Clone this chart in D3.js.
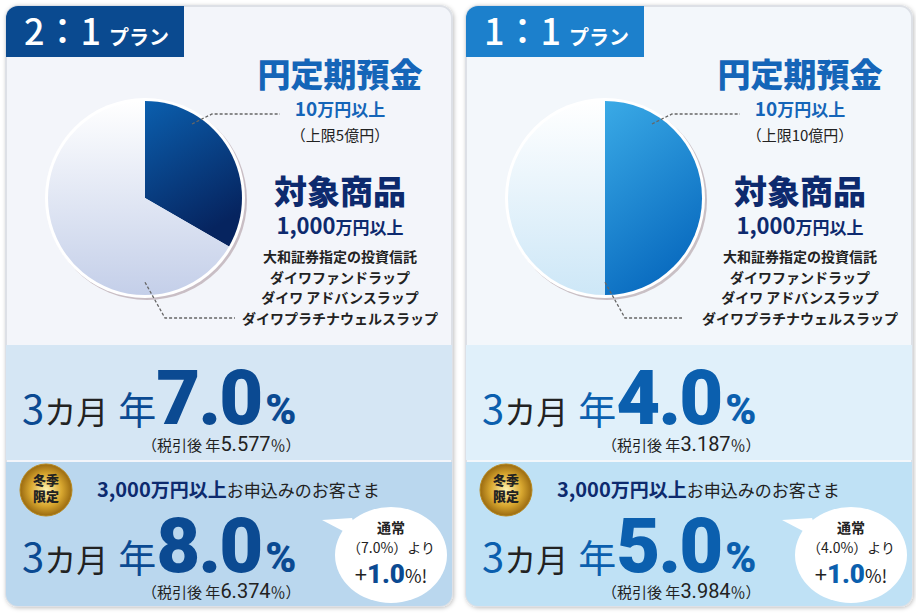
<!DOCTYPE html><html><head><meta charset="utf-8">
<script src="https://cdn.jsdelivr.net/npm/d3@7"></script>
<style>body{margin:0;background:#fff}text{font-family:"Noto Sans CJK JP","Noto Sans",sans-serif}</style></head><body>
<svg id="c" width="916" height="614"></svg>
<script>
const plans=["2：1","1：1"];
const shares=[[1,2],[1,1]];           // 円定期預金 : 対象商品
const depositLimit=["（上限5億円）","（上限10億円）"];
const rates=["7.0","4.0"];
const afterTax=["5.577","3.187"];
const campaignRates=["8.0","5.0"];
const campaignAfterTax=["6.374","3.984"];
const products=["大和証券指定の投資信託","ダイワファンドラップ","ダイワ アドバンスラップ","ダイワプラチナウェルスラップ"];
const themes=[
 {tab:"#0a4a90",bg:"#f3f5fa",mid:"#d5e6f4",bot:"#bad7ee",d1:"#0b5fae",d2:"#06245f",l1:"#ffffff",l2:"#c4cfe9",title:"#1565b8",t2:"#0d2a6e",num:"#0b4a92"},
 {tab:"#1c80cc",bg:"#f3f7fb",mid:"#e0f0fa",bot:"#bfe1f5",d1:"#3aaae6",d2:"#0a6cc0",l1:"#ffffff",l2:"#cde7f7",title:"#1565b8",t2:"#0d2a6e",num:"#0b5fae"}
];
const svg=d3.select("#c");
const defs=svg.append("defs");
const rg=defs.append("radialGradient").attr("id","gold");
rg.append("stop").attr("offset","0").attr("stop-color","#fff3b0");
rg.append("stop").attr("offset","0.6").attr("stop-color","#d9a830");
rg.append("stop").attr("offset","1").attr("stop-color","#9a6a10");
const fs=defs.append("filter").attr("id","sh").attr("x","-10%").attr("y","-10%").attr("width","120%").attr("height","120%");
fs.append("feDropShadow").attr("dx",1).attr("dy",1).attr("stdDeviation",2).attr("flood-color","#000").attr("flood-opacity",0.25);
plans.forEach((p,i)=>{
 const th=themes[i], ox=i*460;
 ["d","l"].forEach(k=>{const lg=defs.append("linearGradient").attr("id",k+i).attr("x1",0).attr("y1",0).attr("x2",k=="d"?0.4:0).attr("y2",1);
  lg.append("stop").attr("offset",0).attr("stop-color",th[k+"1"]);lg.append("stop").attr("offset",1).attr("stop-color",th[k+"2"]);});
 const cp=defs.append("clipPath").attr("id","cp"+i);cp.append("rect").attr("x",ox+6).attr("y",6).attr("width",446).attr("height",600).attr("rx",12);
 svg.append("rect").attr("x",ox+6).attr("y",6).attr("width",446).attr("height",600).attr("rx",12).attr("fill",th.bg).attr("stroke","#dde0e6").attr("stroke-width",2).attr("filter","url(#sh)");
 const inner=svg.append("g").attr("clip-path",`url(#cp${i})`).append("g").attr("transform",`translate(${ox},0)`);
 inner.append("rect").attr("x",6).attr("y",345).attr("width",446).attr("height",115).attr("fill",th.mid);
 inner.append("rect").attr("x",6).attr("y",462).attr("width",446).attr("height",150).attr("fill",th.bot);
 inner.append("rect").attr("x",6).attr("y",6).attr("width",178).attr("height",51).attr("fill",th.tab);
 const g=svg.append("g").attr("transform",`translate(${ox},0)`);
 const tt=g.append("text").attr("x",24).attr("y",45).attr("fill","#fff");
 tt.append("tspan").attr("font-size",36).attr("font-weight",500).text(p);
 tt.append("tspan").attr("font-size",20).attr("font-weight",700).attr("dx",8).text("プラン");
 // pie
 const cx=145,cy=198,r=97;
 const arcs=d3.pie().sort(null)(shares[i]);
 const arc=d3.arc().innerRadius(0).outerRadius(r);
 g.append("circle").attr("cx",cx+2).attr("cy",cy+2).attr("r",r+3).attr("fill","#7a5a60").attr("opacity",0.35);
 g.append("circle").attr("cx",cx).attr("cy",cy).attr("r",r+3).attr("fill","#fff");
 g.selectAll(".s").data(arcs).join("path").attr("transform",`translate(${cx},${cy})`).attr("d",arc).attr("fill",(d,j)=>j==0?`url(#d${i})`:`url(#l${i})`);
 const dash={stroke:"#666","stroke-width":1.3,"stroke-dasharray":"3,2",fill:"none"};
 const l1=g.append("path").attr("d",`M${cx+47},${cy-74} L${cx+67},${cy-84} L${280},${114}`);
 const l2=g.append("path").attr("d",`M${cx},${cy+r*0.9-3} L${cx+20},${318} L${i?222:235},${318}`);
 [l1,l2].forEach(l=>Object.entries(dash).forEach(([k,v])=>l.attr(k,v)));
 const tx=340;
 g.append("text").attr("x",tx).attr("y",87).attr("text-anchor","middle").attr("font-size",33).attr("font-weight",900).attr("fill",th.title).text("円定期預金");
 const t1=g.append("text").attr("x",tx).attr("y",116).attr("text-anchor","middle").attr("font-weight",700).attr("fill",th.title);
 t1.append("tspan").attr("font-size",19).text("10");t1.append("tspan").attr("font-size",17).text("万円以上");
 g.append("text").attr("x",tx).attr("y",141).attr("text-anchor","middle").attr("font-size",15).attr("fill","#222").text(depositLimit[i]);
 g.append("text").attr("x",tx).attr("y",204).attr("text-anchor","middle").attr("font-size",33).attr("font-weight",900).attr("fill",th.t2).text("対象商品");
 const t2=g.append("text").attr("x",tx).attr("y",234).attr("text-anchor","middle").attr("font-weight",700).attr("fill",th.t2);
 t2.append("tspan").attr("font-size",22).text("1,000");t2.append("tspan").attr("font-size",17).text("万円以上");
 products.forEach((s,j)=>g.append("text").attr("x",tx).attr("y",262+j*20.5).attr("text-anchor","middle").attr("font-size",14).attr("font-weight",700).attr("fill","#222").text(s));
 function rate(y,val){
  const t=g.append("text").attr("x",22).attr("y",y).attr("fill",th.num);
  t.append("tspan").attr("font-size",40).text("3");
  t.append("tspan").attr("font-size",32).attr("fill","#222").text("カ月");
  t.append("tspan").attr("font-size",38).attr("dx",10).text("年");
  t.append("tspan").attr("font-size",76).attr("font-weight",900).attr("font-family","Roboto").attr("letter-spacing",-2).text(val);
  t.append("tspan").attr("font-size",42).attr("font-weight",900).attr("font-family","Roboto").attr("dx",4).text("%");
 }
 function tax(y,val){
  const t=g.append("text").attr("x",142).attr("y",y).attr("fill","#222").attr("font-size",15);
  t.append("tspan").text("（税引後 年");t.append("tspan").attr("font-size",20).attr("font-family","Roboto").text(val);
  t.append("tspan").text("％）");
 }
 rate(424,rates[i]);tax(451,afterTax[i]);
 rate(572,campaignRates[i]);tax(598,campaignAfterTax[i]);
 g.append("circle").attr("cx",46).attr("cy",490).attr("r",26).attr("fill","url(#gold)").attr("stroke","#b88a20");
 g.append("text").attr("x",46).attr("y",485).attr("text-anchor","middle").attr("font-size",13).attr("font-weight",900).attr("fill","#222").text("冬季");
 g.append("text").attr("x",46).attr("y",501).attr("text-anchor","middle").attr("font-size",13).attr("font-weight",900).attr("fill","#222").text("限定");
 const c=g.append("text").attr("x",97).attr("y",497).attr("font-weight",700);
 c.append("tspan").attr("font-size",20).attr("fill",th.t2).text("3,000");
 c.append("tspan").attr("font-size",19).attr("fill",th.t2).text("万円以上");
 c.append("tspan").attr("font-size",17).attr("font-weight",400).attr("fill","#222").text("お申込みのお客さま");
 g.append("path").attr("d","M322,520 L352,518 L360,540 Z").attr("fill","#fff");
 g.append("ellipse").attr("cx",391).attr("cy",555).attr("rx",56).attr("ry",48).attr("fill","#fff");
 g.append("text").attr("x",391).attr("y",533).attr("text-anchor","middle").attr("font-size",14).attr("font-weight",700).attr("fill","#222").text("通常");
 g.append("text").attr("x",391).attr("y",553).attr("text-anchor","middle").attr("font-size",14).attr("fill","#222").text(`（${rates[i]}%）より`);
 const b=g.append("text").attr("x",391).attr("y",583).attr("text-anchor","middle").attr("fill","#222");
 b.append("tspan").attr("font-size",22).text("+");
 b.append("tspan").attr("font-size",26).attr("font-weight",900).attr("font-family","Roboto").attr("fill",th.num).text((+campaignRates[i]-+rates[i]).toFixed(1));
 b.append("tspan").attr("font-size",18).text("%!");
});
</script></body></html>
